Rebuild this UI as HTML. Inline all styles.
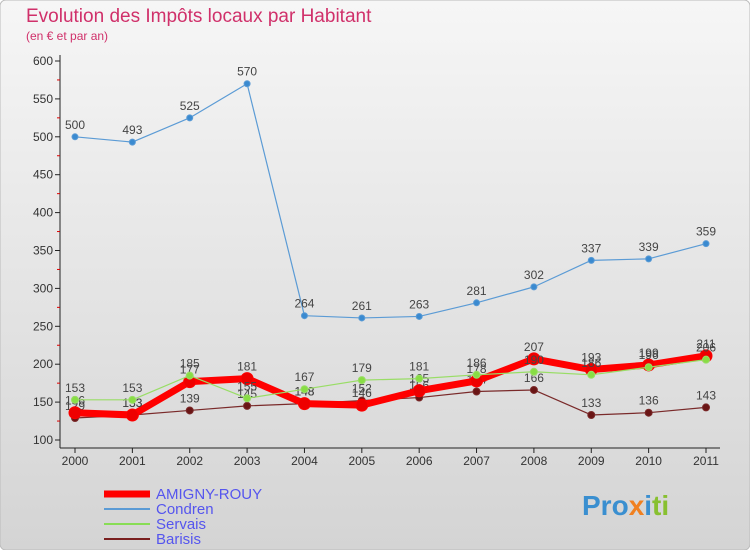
<!DOCTYPE html>
<html><head><meta charset="utf-8"><style>
body{margin:0;width:750px;height:550px;overflow:hidden;font-family:"Liberation Sans",sans-serif}
svg{display:block}
</style></head><body>
<svg width="750" height="550" xmlns="http://www.w3.org/2000/svg">
<defs><linearGradient id="bg" x1="0" y1="0" x2="0" y2="1"><stop offset="0" stop-color="#f6f6f6"/><stop offset="1" stop-color="#d4d4d4"/></linearGradient></defs>
<rect width="750" height="550" rx="6" fill="url(#bg)" stroke="#bbb"/>
<text x="26" y="22" font-size="19" fill="#d0306a">Evolution des Impôts locaux par Habitant</text>
<text x="26" y="40" font-size="12" fill="#d0306a">(en € et par an)</text>
<g id="axes"></g><g id="series"></g>
<g font-size="15">
<line x1="104" y1="494" x2="150" y2="494" stroke="#f00" stroke-width="7"/>
<text x="156" y="499" fill="#5555ee">AMIGNY-ROUY</text>
<line x1="104" y1="509" x2="150" y2="509" stroke="#5b9bd5" stroke-width="2"/>
<text x="156" y="514" fill="#5555ee">Condren</text>
<line x1="104" y1="524" x2="150" y2="524" stroke="#88dd55" stroke-width="2"/>
<text x="156" y="529" fill="#5555ee">Servais</text>
<line x1="104" y1="539" x2="150" y2="539" stroke="#7a2020" stroke-width="2"/>
<text x="156" y="544" fill="#5555ee">Barisis</text>
</g>
<text x="582" y="515" font-size="28" font-weight="bold"><tspan fill="#3a8fd0">Pro</tspan><tspan fill="#f08020">x</tspan><tspan fill="#3a8fd0">i</tspan><tspan fill="#88c030">ti</tspan></text>
</svg>
<script>
const years=[2000,2001,2002,2003,2004,2005,2006,2007,2008,2009,2010,2011];
const yTicks=[100,150,200,250,300,350,400,450,500,550,600];
const amigny=[136,133,177,181,148,146,165,178,207,193,199,211];
const condren=[500,493,525,570,264,261,263,281,302,337,339,359];
const servais=[153,153,185,155,167,179,181,186,190,186,196,206];
const barisis=[129,133,139,145,148,152,156,164,166,133,136,143];
const NS="http://www.w3.org/2000/svg";
const X=i=>75+i*(706-75)/11;
const Y=v=>440-(v-100)*(440-61)/500;
function mk(t,a,p){const e=document.createElementNS(NS,t);for(const k in a)e.setAttribute(k,a[k]);p.appendChild(e);return e;}
const ax=document.getElementById('axes');
const yl=mk('line',{x1:60,y1:55,x2:60,y2:448,stroke:'#222'},ax);


const xl=mk('line',{x1:60,y1:448,x2:720,y2:448,stroke:'#222'},ax);


yTicks.forEach((v,i)=>{
 mk('line',{x1:55,y1:Y(v),x2:60,y2:Y(v),stroke:'#222'},ax);
 if(i<yTicks.length-1) mk('line',{x1:57,y1:Y(v+25),x2:60,y2:Y(v+25),stroke:'#d00'},ax);
 const t=mk('text',{x:53,y:Y(v)+4,'text-anchor':'end','font-size':12,fill:'#333'},ax);t.textContent=v;
 
 
});
years.forEach((y,i)=>{
 mk('line',{x1:X(i),y1:448,x2:X(i),y2:453,stroke:'#222'},ax);
 const t=mk('text',{x:X(i),y:465,'text-anchor':'middle','font-size':12,fill:'#333'},ax);t.textContent=y;
 
 
});
const sg=document.getElementById('series');
function series(name,data,color,w,r,dot){
 const g=mk('g',{},sg);
 
 
 const l=mk('polyline',{points:data.map((v,i)=>X(i)+','+Y(v)).join(' '),fill:'none',stroke:color,'stroke-width':w,'stroke-linejoin':'round'},g);
 
 
 data.forEach((v,i)=>{
  const c=mk('circle',{cx:X(i),cy:Y(v),r:r,fill:dot,stroke:color,'stroke-width':1},g);
  
  
  const t=mk('text',{x:X(i),y:Y(v)-8,'text-anchor':'middle','font-size':12,fill:'#444'},g);t.textContent=v;
  
  
 });
}
series('condren',condren,'#5b9bd5',1.2,3,'#3a8ad0');
series('barisis',barisis,'#7a2a2a',1.2,3.5,'#6a1515');
series('amigny',amigny,'#f00',7,6,'#e00');
series('servais',servais,'#99dd66',1.2,3.5,'#88dd44');
</script>
</body></html>
